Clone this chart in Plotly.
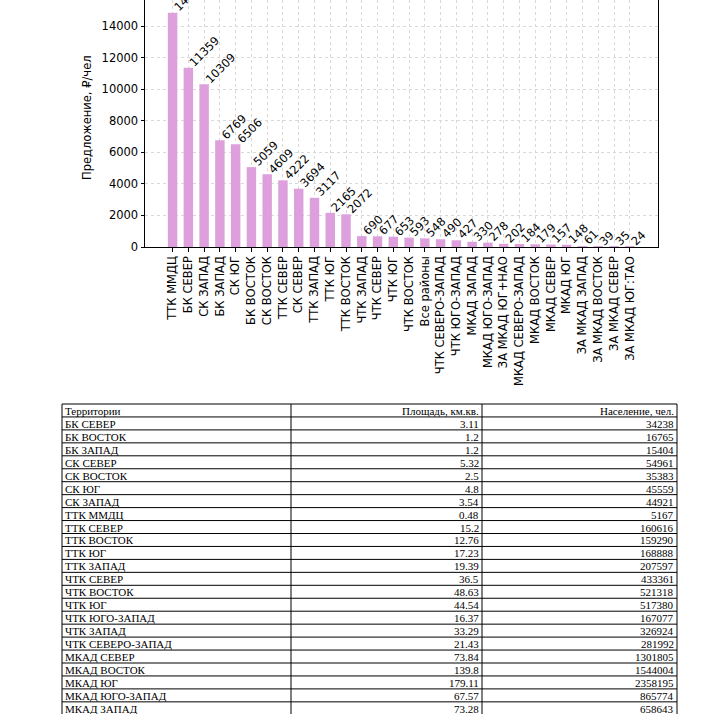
import plotly.graph_objects as go

W, H = 715, 714

# ---- chart data ----
categories = ["ТТК ММДЦ", "БК СЕВЕР", "СК ЗАПАД", "БК ЗАПАД", "СК ЮГ", "БК ВОСТОК",
              "СК ВОСТОК", "ТТК СЕВЕР", "СК СЕВЕР", "ТТК ЗАПАД", "ТТК ЮГ", "ТТК ВОСТОК",
              "ЧТК ЗАПАД", "ЧТК СЕВЕР", "ЧТК ЮГ", "ЧТК ВОСТОК", "Все районы",
              "ЧТК СЕВЕРО-ЗАПАД", "ЧТК ЮГО-ЗАПАД", "МКАД ЗАПАД", "МКАД ЮГО-ЗАПАД",
              "ЗА МКАД ЮГ+НАО", "МКАД СЕВЕРО-ЗАПАД", "МКАД ВОСТОК", "МКАД СЕВЕР",
              "МКАД ЮГ", "ЗА МКАД ЗАПАД", "ЗА МКАД ВОСТОК", "ЗА МКАД СЕВЕР", "ЗА МКАД ЮГ:ТАО"]
values = [14840, 11359, 10309, 6769, 6506, 5059, 4609, 4222, 3694, 3117, 2165, 2072,
          690, 677, 653, 593, 548, 490, 427, 330, 278, 202, 184, 179, 157, 148, 61, 39, 35, 24]
y_title = "Предложение, ₽/чел"

# ---- table data ----
table_header = ["Территории", "Площадь, км.кв.", "Население, чел."]
territories = ["БК СЕВЕР", "БК ВОСТОК", "БК ЗАПАД", "СК СЕВЕР", "СК ВОСТОК", "СК ЮГ",
               "СК ЗАПАД", "ТТК ММДЦ", "ТТК СЕВЕР", "ТТК ВОСТОК", "ТТК ЮГ", "ТТК ЗАПАД",
               "ЧТК СЕВЕР", "ЧТК ВОСТОК", "ЧТК ЮГ", "ЧТК ЮГО-ЗАПАД", "ЧТК ЗАПАД",
               "ЧТК СЕВЕРО-ЗАПАД", "МКАД СЕВЕР", "МКАД ВОСТОК", "МКАД ЮГ",
               "МКАД ЮГО-ЗАПАД", "МКАД ЗАПАД"]
areas = ["3.11", "1.2", "1.2", "5.32", "2.5", "4.8", "3.54", "0.48", "15.2", "12.76",
         "17.23", "19.39", "36.5", "48.63", "44.54", "16.37", "33.29", "21.43", "73.84",
         "139.8", "179.11", "67.57", "73.28"]
population = [34238, 16765, 15404, 54961, 35383, 45559, 44921, 5167, 160616, 159290,
              168888, 207597, 433361, 521318, 517380, 167077, 326924, 281992, 1301805,
              1544004, 2358195, 865774, 658643]


def px_x(p):
    return p / W


def px_y(p):
    return 1 - p / H


FONT = "DejaVu Sans"
TFONT = "Liberation Serif"
BAR_COLOR = "#DDA0DD"

fig = go.Figure()
fig.add_trace(go.Bar(x=categories, y=values, marker=dict(color=BAR_COLOR, line=dict(width=0)),
                     width=0.6, showlegend=False, hoverinfo="x+y"))

annotations = []
shapes = []

# value labels
for c, v in zip(categories, values):
    annotations.append(dict(x=c, y=v, xref="x", yref="y", text=str(v), textangle=-45,
                            xanchor="left", yanchor="bottom", showarrow=False,
                            xshift=-3, yshift=-3, borderpad=0,
                            font=dict(family=FONT, size=11.5, color="black")))
annotations.append(dict(x=px_x(87), y=px_y(118), xref="paper", yref="paper", text=y_title,
                        textangle=-90, showarrow=False, xanchor="center", yanchor="middle",
                        font=dict(family=FONT, size=11.5, color="black")))

# ---- table drawn with shapes + text ----
T_TOP = 404
ROW_H = 12.95
COL_X = [62, 291, 482, 677]
rows = [table_header] + [[t, a, str(p)] for t, a, p in zip(territories, areas, population)]
n_rows = len(rows)
t_bottom = T_TOP + n_rows * ROW_H
for i in range(n_rows + 1):
    yy = px_y(T_TOP + i * ROW_H)
    shapes.append(dict(type="line", xref="paper", yref="paper", x0=px_x(COL_X[0]), x1=px_x(COL_X[-1]),
                       y0=yy, y1=yy, line=dict(color="black", width=1)))
for xx in COL_X:
    shapes.append(dict(type="line", xref="paper", yref="paper", x0=px_x(xx), x1=px_x(xx),
                       y0=px_y(T_TOP), y1=px_y(t_bottom), line=dict(color="black", width=1)))
for i, row in enumerate(rows):
    yc = px_y(T_TOP + (i + 0.5) * ROW_H + 0.5)
    for j, txt in enumerate(row):
        if j == 0:
            x, anchor = px_x(COL_X[0] + 2), "left"
        else:
            x, anchor = px_x(COL_X[j + 1] - 2), "right"
        annotations.append(dict(x=x, y=yc, xref="paper", yref="paper", text=txt, showarrow=False,
                                xanchor=anchor, yanchor="middle", borderpad=0,
                                font=dict(family=TFONT, size=11, color="black")))

fig.update_layout(
    width=W, height=H, margin=dict(l=0, r=0, t=0, b=0, autoexpand=False),
    paper_bgcolor="white", plot_bgcolor="white",
    annotations=annotations, shapes=shapes,
    bargap=0.4,
    xaxis=dict(domain=[px_x(145), px_x(657.7)], range=[-1.75, 30.77], type="category",
               tickangle=-90, showgrid=True, gridcolor="#d9d9d9", griddash="dot", gridwidth=1,
               showline=True, linecolor="black", linewidth=1, ticks="outside", ticklen=3.5,
               tickcolor="black", tickfont=dict(family=FONT, size=11.5, color="black"),
               zeroline=False, automargin=False),
    yaxis=dict(domain=[px_y(247), 1], range=[0, 15647], dtick=2000, tick0=0, tickformat="d",
               showgrid=True, gridcolor="#d9d9d9", griddash="dot", gridwidth=1,
               showline=True, mirror=True, linecolor="black", linewidth=1,
               ticks="outside", ticklen=3.5, tickcolor="black",
               tickfont=dict(family=FONT, size=11.5, color="black"),
               zeroline=False, automargin=False),
)

fig.write_html("out.html", config={"displayModeBar": False},
               post_script="document.body.style.margin='0';")
